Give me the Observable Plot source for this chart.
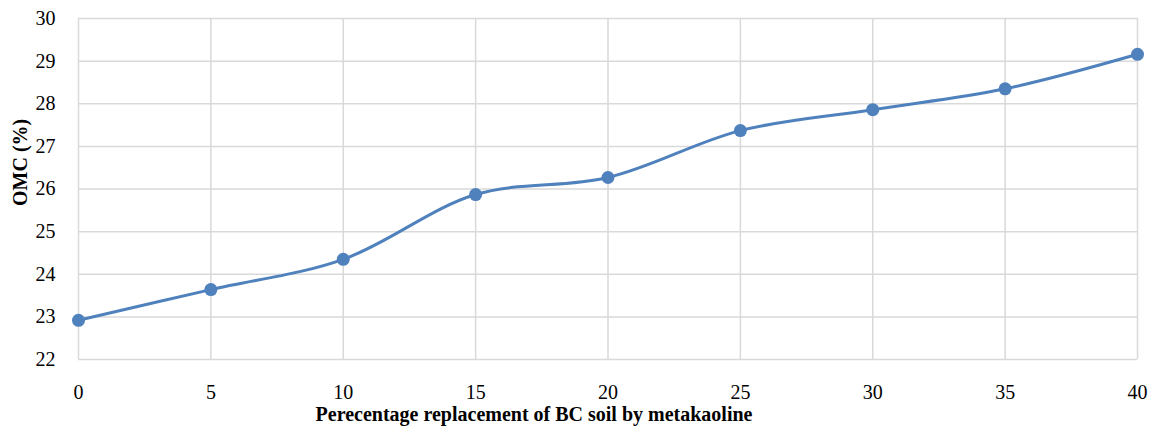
<!DOCTYPE html>
<html>
<head>
<meta charset="utf-8">
<script src="https://cdn.jsdelivr.net/npm/d3@7"></script>
<script src="https://cdn.jsdelivr.net/npm/@observablehq/plot@0.6"></script>
<style>
  html, body { margin: 0; padding: 0; background: #fff; }
  #chart svg { display: block; font-family: "Liberation Serif", "Times New Roman", serif !important; }
  #chart svg text { font-family: "Liberation Serif", "Times New Roman", serif !important; }
  #chart svg g[aria-label$="tick label"], #chart svg g[aria-label$="tick label"] text { font-size: 20px !important; }
</style>
</head>
<body>
<div id="chart"></div>
<script>
const replacement = [0, 5, 10, 15, 20, 25, 30, 35, 40];
const omc = [22.92, 23.64, 24.35, 25.87, 26.27, 27.37, 27.86, 28.35, 29.16];
const xTicks = [0, 5, 10, 15, 20, 25, 30, 35, 40];
const yTicks = [22, 23, 24, 25, 26, 27, 28, 29, 30];
const xTitle = "Perecentage replacement of BC soil by metakaoline";
const yTitle = "OMC (%)";

const data = replacement.map((x, i) => ({x, y: omc[i]}));

const chart = Plot.plot({
  width: 1157,
  height: 426,
  marginLeft: 78,
  marginRight: 20,
  marginTop: 18,
  marginBottom: 67,
  style: {fontFamily: "'Liberation Serif', 'Times New Roman', serif", fontSize: "20px", color: "#000", background: "#fff"},
  x: {domain: [0, 40], ticks: xTicks, label: null},
  y: {domain: [22, 30], ticks: yTicks, label: null},
  marks: [
    Plot.gridX(xTicks, {stroke: "#d9d9d9", strokeOpacity: 1, strokeWidth: 1.5}),
    Plot.gridY(yTicks, {stroke: "#d9d9d9", strokeOpacity: 1, strokeWidth: 1.5}),
    Plot.axisX(xTicks, {tickSize: 0, tickPadding: 25, fontSize: 20, fill: "#000"}),
    Plot.axisY(yTicks, {tickSize: 0, tickPadding: 23, fontSize: 20, fill: "#000"}),
    Plot.line(data, {x: "x", y: "y", curve: "catmull-rom", stroke: "#4f81bd", strokeWidth: 3}),
    Plot.dot(data, {x: "x", y: "y", r: 6.5, fill: "#4f81bd", stroke: "none"}),
    Plot.text([xTitle], {frameAnchor: "bottom", dy: 61, dx: -74, fontWeight: "bold", fontSize: 20, fill: "#000"}),
    Plot.text([yTitle], {frameAnchor: "left", dx: -58, dy: 17, rotate: -90, fontWeight: "bold", fontSize: 20, fill: "#000"})
  ]
});
document.getElementById("chart").appendChild(chart);
</script>
</body>
</html>
